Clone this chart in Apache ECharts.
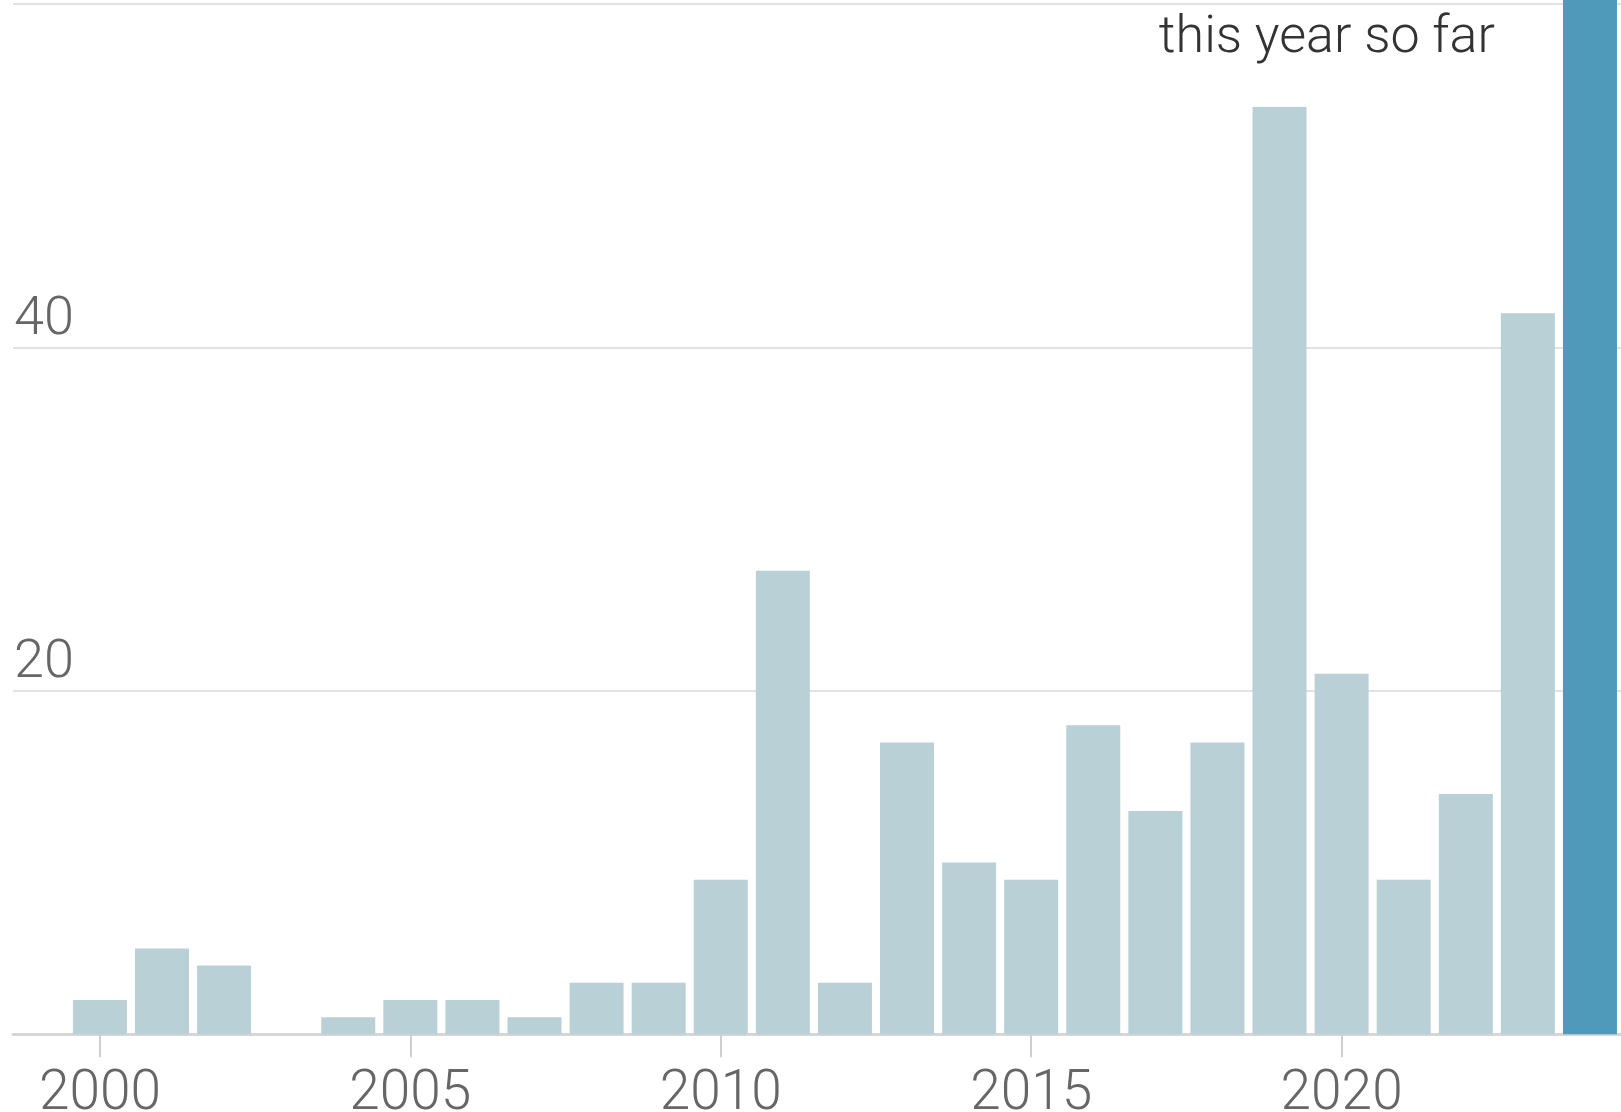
<!DOCTYPE html>
<html>
<head>
<meta charset="utf-8">
<script src="https://cdn.jsdelivr.net/npm/echarts@6/dist/echarts.min.js"></script>
<style>
html,body{margin:0;padding:0;background:#fff;}
#chart{width:1621px;height:1112px;}
</style>
</head>
<body>
<div id="chart"></div>
<script>
const years = [2000,2001,2002,2003,2004,2005,2006,2007,2008,2009,2010,2011,2012,2013,2014,2015,2016,2017,2018,2019,2020,2021,2022,2023,2024];
const counts = [2,5,4,0,1,2,2,1,3,3,9,27,3,17,10,9,18,13,17,54,21,9,14,42,70];
const xTickLabels = [2000,2005,2010,2015,2020];
const yTickLabels = [20,40];
const currentYear = 2024;
const annotationText = 'this year so far';

const chart = echarts.init(document.getElementById('chart'));
const data = years.map((y, i) => ({
  value: [y, counts[i]],
  itemStyle: { color: y === currentYear ? '#4f9aba' : '#b9d0d6' }
}));

chart.setOption({
  animation: false,
  grid: { left: 13, right: 0, top: -339.3, bottom: 77.7, containLabel: false, outerBoundsMode: 'none' },
  xAxis: {
    type: 'value',
    min: 1998.6,
    max: 2024.5,
    axisLine: { show: true, lineStyle: { color: '#d6d6d6', width: 3 } },
    axisTick: { show: true, customValues: xTickLabels, length: 23, lineStyle: { color: '#cfcfcf', width: 2 } },
    axisLabel: {
      customValues: xTickLabels,
      formatter: v => String(v),
      fontFamily: 'Roboto', fontWeight: 300, fontSize: 55, color: '#666', margin: 33
    },
    splitLine: { show: false }
  },
  yAxis: {
    type: 'value',
    min: 0,
    max: 80,
    interval: 20,
    axisLine: { show: false },
    axisTick: { show: false },
    axisLabel: {
      customValues: yTickLabels,
      inside: true,
      margin: 1,
      verticalAlign: 'bottom',
      fontFamily: 'Roboto', fontWeight: 300, fontSize: 54, color: '#666'
    },
    splitLine: { show: true, lineStyle: { color: '#e2e2e2', width: 2 } }
  },
  series: [{
    type: 'bar',
    barWidth: 54,
    data: data,
    z: 3
  }],
  graphic: [{
    type: 'text',
    right: 126,
    top: 13,
    style: {
      text: annotationText,
      fontFamily: 'Roboto', fontWeight: 300, fontSize: 52, fill: '#333'
    },
    z: 10
  }]
});
</script>
</body>
</html>
